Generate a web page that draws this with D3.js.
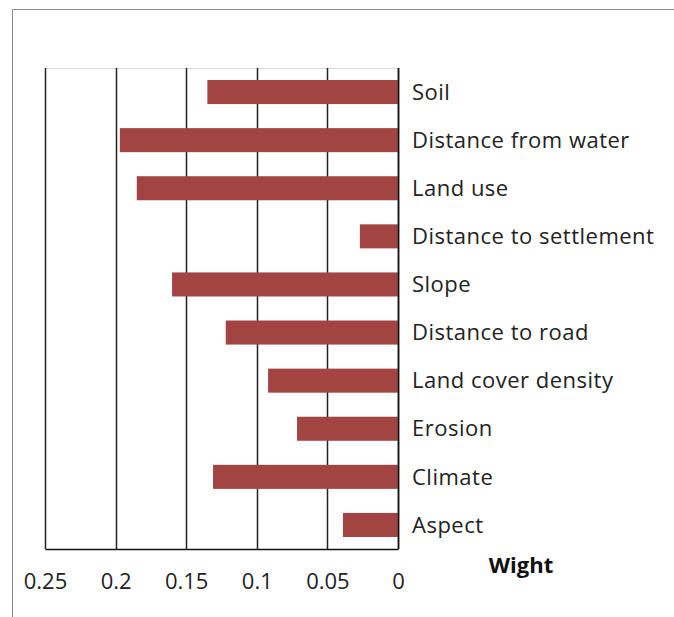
<!DOCTYPE html>
<html>
<head>
<meta charset="utf-8">
<script src="https://cdn.jsdelivr.net/npm/d3@7"></script>
<style>
  body { margin: 0; background: #fff; }
  svg { display: block; font-family: "Open Sans", sans-serif; }
</style>
</head>
<body>
<div id="chart"></div>
<script>
// ---- data ----
const factors = ["Soil", "Distance from water", "Land use", "Distance to settlement", "Slope",
  "Distance to road", "Land cover density", "Erosion", "Climate", "Aspect"];
const weights = [0.135, 0.197, 0.185, 0.027, 0.160, 0.122, 0.092, 0.0715, 0.131, 0.039];
const ticks = [0.25, 0.2, 0.15, 0.1, 0.05, 0];
const axisTitle = "Wight";

const width = 674, height = 617;
const margin = { top: 68, right: 276, bottom: 68, left: 45 };

const svg = d3.select("#chart").append("svg")
  .attr("width", width)
  .attr("height", height);

// outer frame (only top and left edges visible in the picture)
svg.append("path")
  .attr("d", `M12.5,${height} V9.5 H${width}`)
  .attr("fill", "none")
  .attr("stroke", "#8c8c8c")
  .attr("stroke-width", 1);

// reversed axis: 0.25 on the left, 0 on the right
const x = d3.scaleLinear()
  .domain([0.25, 0])
  .range([margin.left, width - margin.right]);

const y = d3.scaleBand()
  .domain(factors)
  .range([margin.top, height - margin.bottom])
  .paddingInner(0.5)
  .paddingOuter(0.25);

const data = factors.map((f, i) => ({ factor: f, w: weights[i] }));

// top border of plot area
svg.append("line")
  .attr("x1", x(0.25)).attr("x2", x(0))
  .attr("y1", margin.top + 0.5).attr("y2", margin.top + 0.5)
  .attr("stroke", "#d9d9d9");

// vertical gridlines
svg.append("g")
  .selectAll("line")
  .data(ticks)
  .join("line")
  .attr("x1", d => Math.round(x(d)) + 0.5)
  .attr("x2", d => Math.round(x(d)) + 0.5)
  .attr("y1", margin.top)
  .attr("y2", height - margin.bottom)
  .attr("stroke", "#222")
  .attr("stroke-width", 1.5);

// bars
svg.append("g")
  .selectAll("rect")
  .data(data)
  .join("rect")
  .attr("x", d => x(d.w))
  .attr("y", d => y(d.factor))
  .attr("width", d => x(0) - x(d.w))
  .attr("height", y.bandwidth())
  .attr("fill", "#a24442");

// zero line on top of bars
svg.append("line")
  .attr("x1", Math.round(x(0)) + 0.5).attr("x2", Math.round(x(0)) + 0.5)
  .attr("y1", margin.top).attr("y2", height - margin.bottom)
  .attr("stroke", "#111")
  .attr("stroke-width", 1.5);

// bottom axis
const xAxis = svg.append("g")
  .attr("transform", `translate(0,${height - margin.bottom})`)
  .call(d3.axisBottom(x).tickValues(ticks).tickSize(0).tickPadding(24)
    .tickFormat(d => String(d)));
xAxis.select(".domain").attr("stroke", "#111").attr("stroke-width", 1.5);
xAxis.selectAll("text")
  .attr("font-size", 22)
  .attr("font-family", "Open Sans, sans-serif")
  .attr("fill", "#222");

// category labels on the right
svg.append("g")
  .selectAll("text")
  .data(factors)
  .join("text")
  .attr("x", x(0) + 14)
  .attr("y", d => y(d) + y.bandwidth() / 2)
  .attr("dy", "0.35em")
  .attr("font-size", 22)
  .attr("letter-spacing", 0.5)
  .attr("fill", "#222")
  .text(d => d);

// axis title
svg.append("text")
  .attr("x", 521)
  .attr("y", 565)
  .attr("dy", "0.35em")
  .attr("text-anchor", "middle")
  .attr("font-size", 22)
  .attr("font-weight", "bold")
  .attr("fill", "#111")
  .text(axisTitle);
</script>
</body>
</html>
